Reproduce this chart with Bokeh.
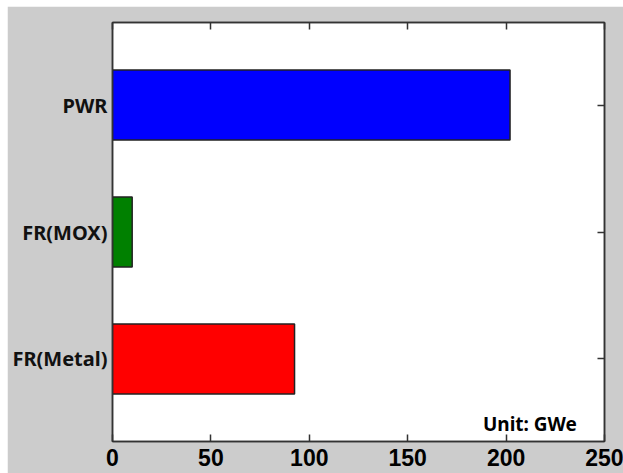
from bokeh.plotting import figure
from bokeh.models import ColumnDataSource, FixedTicker, LinearAxis, Label, Range1d, Spacer
from bokeh.layouts import column, row
from bokeh.embed import file_html
from bokeh.resources import INLINE

categories = ["PWR", "FR(MOX)", "FR(Metal)"]
values = [202, 10, 92.5]
colors = ["#0000ff", "#008000", "#ff0000"]
x_ticks = [0, 50, 100, 150, 200, 250]
unit_text = "Unit: GWe"

n = len(categories)
ypos = [n - i for i in range(n)]
src = ColumnDataSource(dict(y=ypos, v=values, c=colors, cat=categories))

p = figure(width=616, height=467, output_backend="svg", toolbar_location=None,
           x_range=Range1d(0, 250), y_range=Range1d(0.35, n + 0.65),
           min_border_left=105, min_border_right=19, min_border_top=16, min_border_bottom=32)
p.background_fill_color = "white"
p.border_fill_color = "#cccccc"
p.outline_line_color = "#333333"
p.outline_line_width = 1.5
p.grid.visible = False

p.hbar(y="y", right="v", left=0, height=0.55, fill_color="c", line_color="#222222",
       line_width=1.5, source=src)

# bottom axis
xa = p.xaxis[0]
xa.ticker = FixedTicker(ticks=x_ticks)
xa.major_tick_in = 7
xa.major_tick_out = 0
xa.minor_tick_line_color = None
xa.major_tick_line_width = 1.5
xa.major_tick_line_color = "#333333"
xa.axis_line_color = "#333333"
xa.axis_line_width = 1.5
xa.major_label_text_font = "Liberation Sans"
xa.major_label_text_font_style = "bold"
xa.major_label_text_font_size = "23px"
xa.major_label_text_color = "black"
xa.major_label_standoff = 7

# left axis
ya = p.yaxis[0]
ya.ticker = FixedTicker(ticks=ypos)
ya.major_label_overrides = {y: c for y, c in zip(ypos, categories)}
ya.major_tick_in = 0
ya.major_tick_out = 0
ya.minor_tick_line_color = None
ya.axis_line_color = "#333333"
ya.axis_line_width = 1.5
ya.major_label_text_font = "Noto Sans"
ya.major_label_text_font_style = "bold"
ya.major_label_text_font_size = "20px"
ya.major_label_text_color = "#111111"
ya.major_label_standoff = 5

# top axis (ticks only)
ta = LinearAxis(ticker=FixedTicker(ticks=x_ticks), major_tick_in=7, major_tick_out=0,
                minor_tick_line_color=None, major_tick_line_width=1.5,
                major_tick_line_color="#333333", axis_line_color="#333333",
                axis_line_width=1.5, major_label_text_color=None,
                major_label_standoff=0)
p.add_layout(ta, "above")

# right axis (ticks only)
ra = LinearAxis(ticker=FixedTicker(ticks=ypos), major_tick_in=7, major_tick_out=0,
                minor_tick_line_color=None, major_tick_line_width=1.5,
                major_tick_line_color="#333333", axis_line_color="#333333",
                axis_line_width=1.5, major_label_text_color=None,
                major_label_standoff=0)
p.add_layout(ra, "right")

lab = Label(x=236, y=0.49, text=unit_text, text_align="right", text_baseline="middle",
            text_font="Noto Sans", text_font_style="bold", text_font_size="19px",
            text_color="black")
p.add_layout(lab)

layout = column(Spacer(height=6), row(Spacer(width=7), p, spacing=0), spacing=0)

open("out.html", "w").write(file_html(layout, INLINE))
